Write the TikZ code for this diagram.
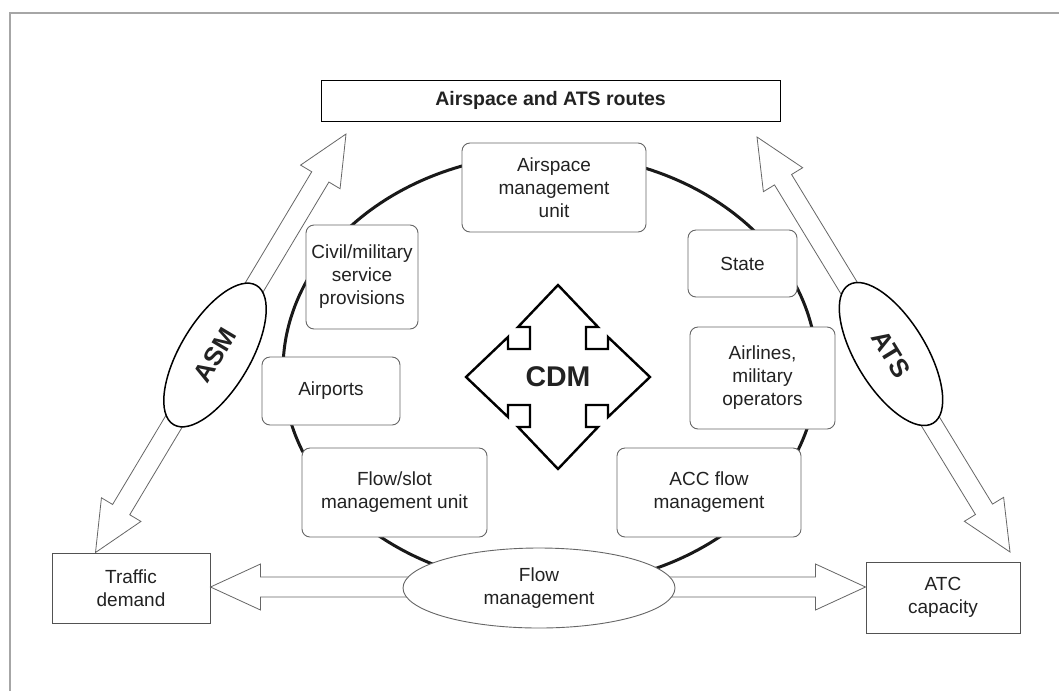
\documentclass[tikz,border=0pt]{standalone}
\usepackage{fontspec}
\setmainfont{Liberation Sans}
\usetikzlibrary{calc,shapes.geometric}
\definecolor{txt}{HTML}{222222}
\definecolor{edge}{HTML}{666666}
\tikzset{
  rbox/.style={draw=edge, line width=0.9pt, rounded corners=8pt, fill=white,
    align=center, inner sep=0pt, text=txt, font=\fontsize{19}{23}\selectfont},
  sbox/.style={draw=edge!80!black, line width=1pt, fill=white,
    align=center, inner sep=0pt, text=txt, font=\fontsize{19}{23}\selectfont},
  lbl/.style={ellipse, draw=black, line width=1.5pt, fill=white, inner sep=0pt,
    minimum width=162pt, minimum height=70pt, text=txt,
    font=\fontsize{26}{30}\selectfont\bfseries},
  harrow/.style={draw=edge, line width=0.8pt, fill=white, line join=miter},
  frame/.style={draw=gray!70, line width=1.3pt},
  ring/.style={draw=black!90, line width=3pt},
  cdmline/.style={draw=black, line width=2.4pt, fill=white, line join=miter}
}
\newcommand\hollowdouble[2]{%
  \coordinate (hA) at ($(#1)!50pt!(#2)$);
  \coordinate (hB) at ($(#2)!50pt!(#1)$);
  \draw[harrow] (#1) -- ($(hA)!23pt!90:(#2)$) -- ($(hA)!10pt!90:(#2)$)
    -- ($(hB)!10pt!90:(#2)$) -- ($(hB)!23pt!90:(#2)$) -- (#2)
    -- ($(hB)!23pt!-90:(#2)$) -- ($(hB)!10pt!-90:(#2)$)
    -- ($(hA)!10pt!-90:(#2)$) -- ($(hA)!23pt!-90:(#2)$) -- cycle;
}
\begin{document}
\begin{tikzpicture}[x=1pt,y=-1pt]
\useasboundingbox (0,0) rectangle (1059,691);
\fill[white] (0,0) rectangle (1059,691);
% outer frame
\draw[frame] (10,691) -- (10,13) -- (1059,13);

% top box
\node[draw=black, line width=1pt, fill=white, minimum width=459pt, minimum height=41pt,
  inner sep=0pt, text=txt, font=\fontsize{19.5}{22}\selectfont\bfseries]
  (air) at (550.5,100.5) {Airspace and ATS routes};

% ring
\draw[ring] (550,370) ellipse [x radius=267pt, y radius=216pt];

% side boxes
\node[sbox, minimum width=158pt, minimum height=70pt] (td) at (131,588) {Traffic\\demand};
\node[sbox, minimum width=154pt, minimum height=71pt] (atc) at (943,597.5) {ATC\\capacity};

% arrow end points
\coordinate (asmTop) at (346,134);
\coordinate (asmBot) at ([xshift=44pt]td.north west);
\coordinate (atsTop) at (757,137);
\coordinate (atsBot) at (1010,552);
\coordinate (fL) at ([yshift=1pt]td.east);
\coordinate (fR) at ([yshift=10.5pt]atc.west);

\hollowdouble{asmBot}{asmTop}
\hollowdouble{atsTop}{atsBot}
\hollowdouble{fL}{fR}

% labelled ellipses
\node[lbl, rotate=59.2] (asm) at (215,355) {ASM};
\node[lbl, rotate=-58.6] (ats) at (891,354) {ATS};
\node[ellipse, draw=edge, line width=0.9pt, fill=white, inner sep=0pt,
  minimum width=272pt, minimum height=80pt, align=center, text=txt,
  font=\fontsize{19}{23}\selectfont] (flow) at (539,588) {Flow\\management};

% rounded boxes on the ring
\node[rbox, minimum width=184pt, minimum height=89pt] (amu) at (554,187.5) {Airspace\\management\\unit};
\node[rbox, minimum width=112pt, minimum height=104pt] (civ) at (362,277) {Civil/military\\service\\provisions};
\node[rbox, minimum width=109pt, minimum height=67pt] (st) at (742.5,263.5) {State};
\node[rbox, minimum width=138pt, minimum height=68pt] (apt) at (331,391) {Airports};
\node[rbox, minimum width=145pt, minimum height=102pt] (aln) at (762.5,378) {Airlines,\\military\\operators};
\node[rbox, minimum width=185pt, minimum height=89pt] (fsu) at (394.5,492.5) {Flow/slot\\management unit};
\node[rbox, minimum width=184pt, minimum height=89pt] (acc) at (709,492.5) {ACC flow\\management};

% CDM four-way arrow
\begin{scope}[shift={(558,377)}]
\draw[cdmline] (0,-92) -- (40,-50) -- (28,-50) -- (28,-28) -- (50,-28) -- (50,-40)
  -- (92,0) -- (50,40) -- (50,28) -- (28,28) -- (28,50) -- (40,50)
  -- (0,92) -- (-40,50) -- (-28,50) -- (-28,28) -- (-50,28) -- (-50,40)
  -- (-92,0) -- (-50,-40) -- (-50,-28) -- (-28,-28) -- (-28,-50) -- (-40,-50) -- cycle;
\end{scope}
\node[text=txt, font=\fontsize{28.5}{30}\selectfont\bfseries, inner sep=0pt] (cdm) at (558,377) {CDM};
\end{tikzpicture}
\end{document}
